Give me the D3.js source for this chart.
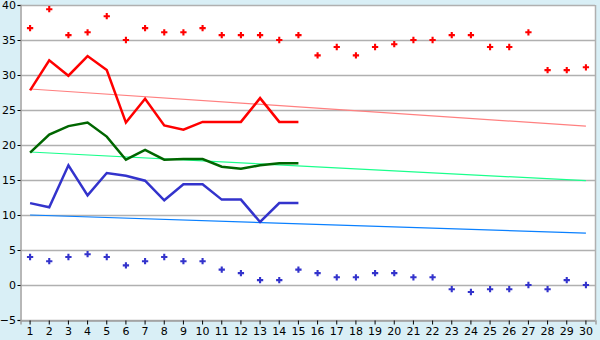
<!DOCTYPE html>
<html>
<head>
<meta charset="utf-8">
<script src="https://cdn.jsdelivr.net/npm/d3@7"></script>
<style>
  html, body { margin: 0; padding: 0; background: #d9eff6; }
  svg { display: block; }
  text { font-family: "DejaVu Sans", sans-serif; font-size: 11px; fill: #000; }
</style>
</head>
<body>
<svg id="chart" width="600" height="340"></svg>
<script>
// Days of the month along the bottom
const days = d3.range(1, 31);

// Daily maximum (red crosses) and minimum (blue crosses)
const maxMarks = [36.7, 39.4, 35.7, 36.1, 38.4, 35.0, 36.7, 36.1, 36.1, 36.7,
                  35.7, 35.7, 35.7, 35.0, 35.7, 32.8, 34.0, 32.8, 34.0, 34.4,
                  35.0, 35.0, 35.7, 35.7, 34.0, 34.0, 36.1, 30.7, 30.7, 31.1];
const minMarks = [4.0, 3.4, 4.0, 4.4, 4.0, 2.8, 3.4, 4.0, 3.4, 3.4,
                  2.2, 1.7, 0.7, 0.7, 2.2, 1.7, 1.1, 1.1, 1.7, 1.7,
                  1.1, 1.1, -0.6, -1.0, -0.6, -0.6, 0.0, -0.6, 0.7, 0.0];

// Lines for the first 15 days
const highLine = [27.8, 32.1, 29.9, 32.7, 30.7, 23.2, 26.6, 22.8, 22.2, 23.3,
                  23.3, 23.3, 26.7, 23.3, 23.3];
const meanLine = [18.9, 21.5, 22.7, 23.2, 21.2, 17.9, 19.3, 17.9, 18.0, 18.0,
                  16.9, 16.6, 17.1, 17.4, 17.4];
const lowLine  = [11.7, 11.1, 17.1, 12.8, 16.0, 15.6, 14.9, 12.1, 14.4, 14.4,
                  12.2, 12.2, 9.0, 11.7, 11.7];

// Straight trend lines: value on day 1 and on day 30
const highTrend = [28.0, 22.7];
const meanTrend = [19.0, 14.9];
const lowTrend  = [10.0, 7.4];

const yTicks = d3.range(-5, 41, 5);

const svg = d3.select("#chart");
const margin = { top: 5, right: 5, bottom: 20, left: 20 };
const width = 600, height = 340;

const x = d3.scaleBand()
  .domain(days)
  .range([margin.left + 0.5, width - margin.right + 0.5]);
const y = d3.scaleLinear()
  .domain([-5, 40])
  .range([height - margin.bottom, margin.top]);

const cx = d => x(d) + x.bandwidth() / 2;

// white plot area
svg.append("rect")
  .attr("x", margin.left)
  .attr("y", margin.top)
  .attr("width", width - margin.right - margin.left)
  .attr("height", height - margin.bottom - margin.top)
  .attr("fill", "#fff");

// gridlines
svg.append("g")
  .selectAll("line")
  .data(yTicks)
  .join("line")
  .attr("x1", margin.left)
  .attr("x2", width - margin.right)
  .attr("y1", d => Math.round(y(d)) + 0.5)
  .attr("y2", d => Math.round(y(d)) + 0.5)
  .attr("stroke", "#b0b0b0")
  .attr("stroke-width", 1.5);

// right border
svg.append("line")
  .attr("x1", width - margin.right + 0.5)
  .attr("x2", width - margin.right + 0.5)
  .attr("y1", margin.top)
  .attr("y2", height - margin.bottom)
  .attr("stroke", "#b0b0b0")
  .attr("stroke-width", 1.5);

// y axis
const yAxis = svg.append("g")
  .attr("transform", `translate(${margin.left + 0.5},0)`)
  .call(d3.axisLeft(y).tickValues(yTicks).tickSize(3).tickPadding(2)
    .tickFormat(d => d < 0 ? "\u2212" + Math.abs(d) : d));
yAxis.select(".domain").attr("stroke", "#a0a0a0").attr("stroke-width", 1.5);
yAxis.selectAll(".tick line").attr("stroke", "#000");
yAxis.selectAll("text").attr("dx", "0.5");

// x axis
const xAxis = svg.append("g")
  .attr("transform", `translate(0,${height - margin.bottom + 0.5})`)
  .call(d3.axisBottom(x).tickSize(4).tickPadding(3));
xAxis.select(".domain").attr("stroke", "#a0a0a0").attr("stroke-width", 1.5);
xAxis.selectAll(".tick line").attr("stroke", "#000");

// trend lines
function drawTrend(vals, color) {
  svg.append("line")
    .attr("x1", cx(days[0]))
    .attr("x2", cx(days[days.length - 1]))
    .attr("y1", y(vals[0]))
    .attr("y2", y(vals[1]))
    .attr("stroke", color)
    .attr("stroke-width", 1.2);
}
drawTrend(highTrend, "#ff8080");
drawTrend(meanTrend, "#1aff8c");
drawTrend(lowTrend, "#0a80ff");

// thick daily lines
const line = d3.line()
  .x((d, i) => cx(days[i]))
  .y(d => y(d));

function drawLine(vals, color) {
  svg.append("path")
    .attr("d", line(vals))
    .attr("fill", "none")
    .attr("stroke", color)
    .attr("stroke-width", 2.5)
    .attr("stroke-linejoin", "miter");
}
drawLine(highLine, "#ff0000");
drawLine(meanLine, "#006600");
drawLine(lowLine, "#3333cc");

// crosses for max / min
const cross = d3.symbol().type(d3.symbolCross).size(22);
function drawMarks(vals, color) {
  svg.append("g")
    .selectAll("path")
    .data(vals)
    .join("path")
    .attr("d", cross)
    .attr("transform", (d, i) => `translate(${cx(days[i])},${y(d)})`)
    .attr("fill", color);
}
drawMarks(maxMarks, "#ff0000");
drawMarks(minMarks, "#3333cc");
</script>
</body>
</html>
